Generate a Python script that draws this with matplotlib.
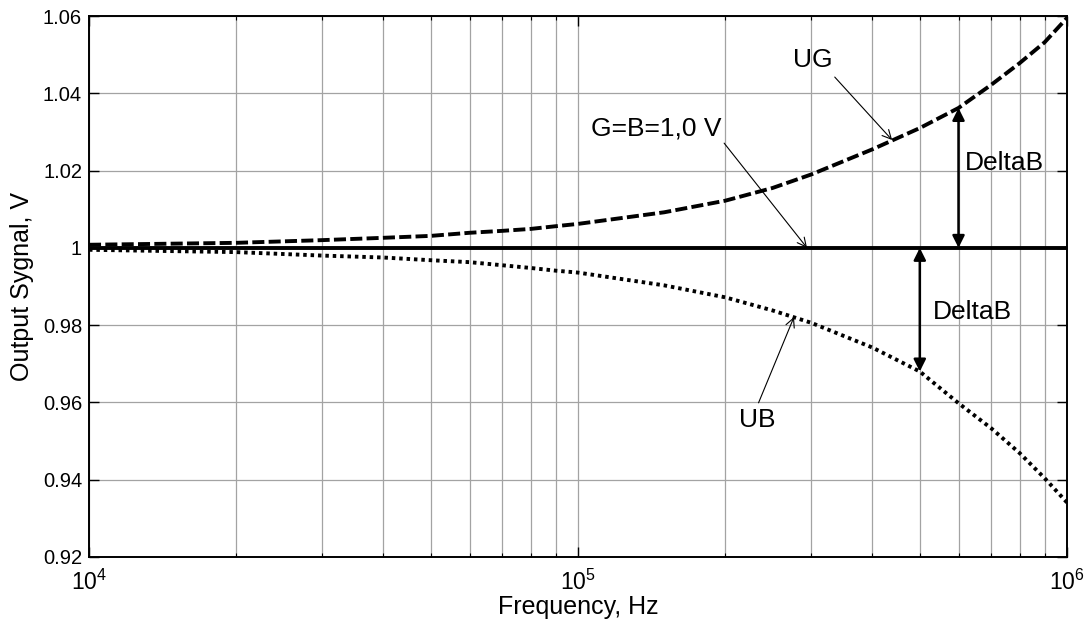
import matplotlib
matplotlib.use("Agg")
import matplotlib.pyplot as plt
from matplotlib.ticker import LogLocator, FixedLocator, FuncFormatter, NullFormatter

plt.rcParams['font.family'] = ['Liberation Sans', 'DejaVu Sans']
plt.rcParams['mathtext.fontset'] = 'custom'
plt.rcParams['mathtext.rm'] = 'Liberation Sans'
plt.rcParams['mathtext.it'] = 'Liberation Sans:italic'
plt.rcParams['mathtext.bf'] = 'Liberation Sans:bold'

# ---- data ----
freq = [1e4, 2e4, 3e4, 4e4, 5e4, 6e4, 7e4, 8e4, 9e4, 1e5, 1.5e5, 2e5, 2.5e5,
        3e5, 4e5, 5e5, 6e5, 7e5, 8e5, 9e5, 1e6]
ug = [1.0008, 1.0013, 1.0020, 1.0026, 1.0031, 1.0039, 1.0044, 1.0049, 1.0056,
      1.0062, 1.0092, 1.0122, 1.0155, 1.0190, 1.0255, 1.0310, 1.0362, 1.0422,
      1.0478, 1.0532, 1.0595]
ub = [0.9995, 0.9989, 0.9980, 0.9975, 0.9968, 0.9963, 0.9955, 0.9948, 0.9941,
      0.9936, 0.9903, 0.9872, 0.9838, 0.9806, 0.9742, 0.9680, 0.9598, 0.9533,
      0.9469, 0.9404, 0.9341]
ref_level = [1.0, 1.0]
ref_freq = [1e4, 1e6]
yticks = [0.92, 0.94, 0.96, 0.98, 1.0, 1.02, 1.04, 1.06]

fig = plt.figure(figsize=(10.89, 6.24), dpi=100)
ax = fig.add_axes([89/1089, 1-557/624, (1067-89)/1089, (557-16)/624])

ax.plot(freq, ug, color='black', lw=2.8, linestyle=(0, (3.1, 1.1)))
ax.plot(freq, ub, color='black', lw=2.8, linestyle=(0, (0.9, 1.0)))
ax.plot(ref_freq, ref_level, color='black', lw=2.8, solid_capstyle='butt')

ax.set_xscale('log')
ax.set_xlim(1e4, 1e6)
ax.set_ylim(0.92, 1.06)
ax.yaxis.set_major_locator(FixedLocator(yticks))
ax.yaxis.set_major_formatter(FuncFormatter(lambda v, p: '%g' % round(v, 4)))
ax.xaxis.set_major_locator(LogLocator(base=10, numticks=10))
ax.xaxis.set_minor_locator(LogLocator(base=10, subs=range(2, 10), numticks=20))
ax.xaxis.set_minor_formatter(NullFormatter())

ax.grid(True, which='major', axis='both', color='#a3a3a3', lw=0.9)
ax.grid(True, which='minor', axis='x', color='#a3a3a3', lw=0.9)
ax.set_axisbelow(True)

ax.tick_params(which='both', direction='in', top=True, right=True,
               labelsize=14.5, pad=5)
ax.tick_params(axis='x', which='major', labelsize=16.5, pad=9)
ax.tick_params(which='major', length=7, width=1)
ax.tick_params(which='minor', length=3, width=0.8)
for s in ax.spines.values():
    s.set_linewidth(1.4)

ax.set_xlabel('Frequency, Hz', fontsize=18, labelpad=0)
ax.set_ylabel('Output Sygnal, V', fontsize=18, labelpad=6)

thin = dict(arrowstyle='->', color='black', lw=0.8, mutation_scale=16,
            shrinkA=0, shrinkB=0)
thick = dict(arrowstyle='<|-|>', color='black', lw=1.8, mutation_scale=18,
             shrinkA=0, shrinkB=0)

# UG
ax.text(3.02e5, 1.0486, 'UG', fontsize=19, ha='center', va='center')
ax.annotate('', xy=(4.39e5, 1.0279), xytext=(3.35e5, 1.0442), arrowprops=thin)
# G=B=1,0 V
ax.text(1.97e5, 1.0308, 'G=B=1,0 V', fontsize=19, ha='right', va='center')
ax.annotate('', xy=(2.94e5, 1.0), xytext=(1.99e5, 1.0271), arrowprops=thin)
# UB
ax.text(2.33e5, 0.9555, 'UB', fontsize=19, ha='center', va='center')
ax.annotate('', xy=(2.765e5, 0.9821), xytext=(2.34e5, 0.9599), arrowprops=thin)
# DeltaB arrows
ax.annotate('', xy=(6e5, 1.0362), xytext=(6e5, 1.0), arrowprops=thick)
ax.text(6.18e5, 1.0220, 'DeltaB', fontsize=19, ha='left', va='center')
ax.annotate('', xy=(5e5, 0.9680), xytext=(5e5, 1.0), arrowprops=thick)
ax.text(5.32e5, 0.9834, 'DeltaB', fontsize=19, ha='left', va='center')

fig.savefig('out.png', dpi=100)
